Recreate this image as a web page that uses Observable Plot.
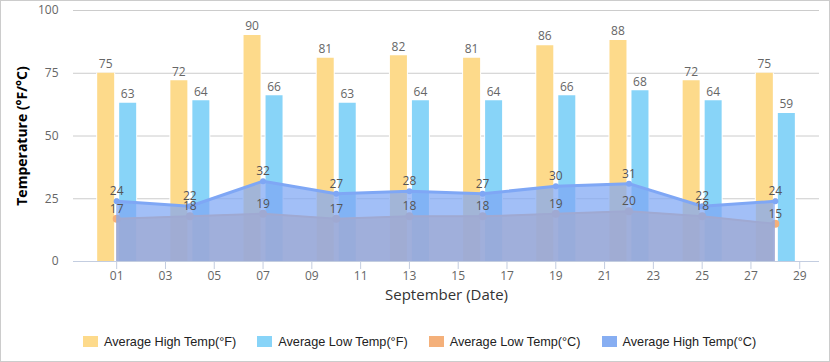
<!DOCTYPE html>
<html>
<head>
<meta charset="utf-8">
<script src="https://cdn.jsdelivr.net/npm/d3@7"></script>
<script src="https://cdn.jsdelivr.net/npm/@observablehq/plot@0.6"></script>
<style>
  html, body { margin: 0; padding: 0; background: #fff; }
  #wrap { position: relative; width: 830px; height: 362px; overflow: hidden; }
  #frame { position: absolute; left: 0; top: 0; width: 830px; height: 362px; box-sizing: border-box; border: 1px solid #cccccc; pointer-events: none; }
  #chart { position: absolute; left: 0; top: 0; }
  #legend { position: absolute; left: 83px; top: 333px; display: flex; align-items: center; font-family: "Liberation Sans", Arial, sans-serif; font-size: 12.7px; color: #222; }
  .item { display: flex; align-items: center; margin-right: 21px; height: 17px; }
  .sw { width: 15px; height: 11px; margin-right: 6px; }
</style>
</head>
<body>
<div id="wrap">
  <div id="chart"></div>
  <div id="legend"></div>
  <div id="frame"></div>
</div>
<script>
const days  = [1, 4, 7, 10, 13, 16, 19, 22, 25, 28];
const highF = [75, 72, 90, 81, 82, 81, 86, 88, 72, 75];
const lowF  = [63, 64, 66, 63, 64, 64, 66, 68, 64, 59];
const lowC  = [17, 18, 19, 17, 18, 18, 19, 20, 18, 15];
const highC = [24, 22, 32, 27, 28, 27, 30, 31, 22, 24];
const xTicks = [1, 3, 5, 7, 9, 11, 13, 15, 17, 19, 21, 23, 25, 27, 29];
const yTicks = [0, 25, 50, 75, 100];
const seriesNames = ["Average High Temp(°F)", "Average Low Temp(°F)", "Average Low Temp(°C)", "Average High Temp(°C)"];
const seriesColors = ["#FDDA8B", "#88D4F8", "#F4B07A", "#87AEF2"];
const xTitle = "September (Date)";
const yTitle = "Temperature (°F/°C)";

const data = days.map((d, i) => ({day: d, highF: highF[i], lowF: lowF[i], lowC: lowC[i], highC: highC[i]}));

const chart = Plot.plot({
  width: 830,
  height: 318,
  marginLeft: 73,
  marginRight: 11,
  marginTop: 10,
  marginBottom: 57,
  x: {domain: [-0.77, 29.81]},
  y: {domain: [0, 100]},
  style: {fontFamily: "'Open Sans', sans-serif", fontSize: "12px", background: "transparent", overflow: "visible"},
  marks: [
    Plot.ruleY(yTicks.filter(t => t > 0), {stroke: "#cccccc"}),
    Plot.ruleX(data, {x: "day", y1: 0, y2: "highF", stroke: "#ffffff", strokeWidth: 19, dx: -11}),
    Plot.ruleX(data, {x: "day", y1: 0, y2: "lowF", stroke: "#ffffff", strokeWidth: 19, dx: 11}),
    Plot.ruleX(data, {x: "day", y1: 0, y2: "highF", stroke: seriesColors[0], strokeWidth: 17, dx: -11}),
    Plot.ruleX(data, {x: "day", y1: 0, y2: "lowF", stroke: seriesColors[1], strokeWidth: 17, dx: 11}),
    Plot.text(data, {x: "day", y: "highF", text: "highF", dx: -11, dy: -9, fill: "#666", fontSize: 12}),
    Plot.text(data, {x: "day", y: "lowF", text: "lowF", dx: 11, dy: -9, fill: "#666", fontSize: 12}),
    Plot.areaY(data, {x: "day", y: "lowC", fill: seriesColors[2], fillOpacity: 0.75}),
    Plot.lineY(data, {x: "day", y: "lowC", stroke: seriesColors[2], strokeWidth: 2}),
    Plot.dot(data, {x: "day", y: "lowC", r: 4, fill: seriesColors[2]}),
    Plot.areaY(data, {x: "day", y: "highC", fill: "#7EA6F4", fillOpacity: 0.72}),
    Plot.lineY(data, {x: "day", y: "highC", stroke: "#7FA7F5", strokeWidth: 3}),
    Plot.dot(data, {x: "day", y: "highC", r: 3, fill: "#7FA7F5"}),
    Plot.ruleY([0], {stroke: "#C3CDE0"}),
    Plot.text(data, {x: "day", y: "highC", text: "highC", dy: -10, fill: "#555", fontSize: 12}),
    Plot.text(data, {x: "day", y: "lowC", text: "lowC", dy: -10, fill: "#555", fontSize: 12}),
    Plot.axisX(xTicks, {tickSize: 8, tickPadding: 2, tickFormat: d => String(d).padStart(2, "0"), stroke: "#C3CDE0", fill: "#666", label: null, fontSize: 12}),
    Plot.axisY(yTicks, {tickSize: 0, tickPadding: 15, fill: "#666", label: null, fontSize: 12}),
    Plot.text([xTitle], {frameAnchor: "bottom", dy: 38, fill: "#333", fontSize: 15}),
    Plot.text([yTitle], {frameAnchor: "left", textAnchor: "middle", dx: -51, rotate: -90, fill: "#000", fontSize: 14, fontWeight: "bold"})
  ]
});
document.getElementById("chart").appendChild(chart);

const legend = document.getElementById("legend");
seriesNames.forEach((name, i) => {
  const item = document.createElement("div");
  item.className = "item";
  const sw = document.createElement("span");
  sw.className = "sw";
  sw.style.background = seriesColors[i];
  const label = document.createElement("span");
  label.textContent = name;
  item.appendChild(sw);
  item.appendChild(label);
  legend.appendChild(item);
});
</script>
</body>
</html>
